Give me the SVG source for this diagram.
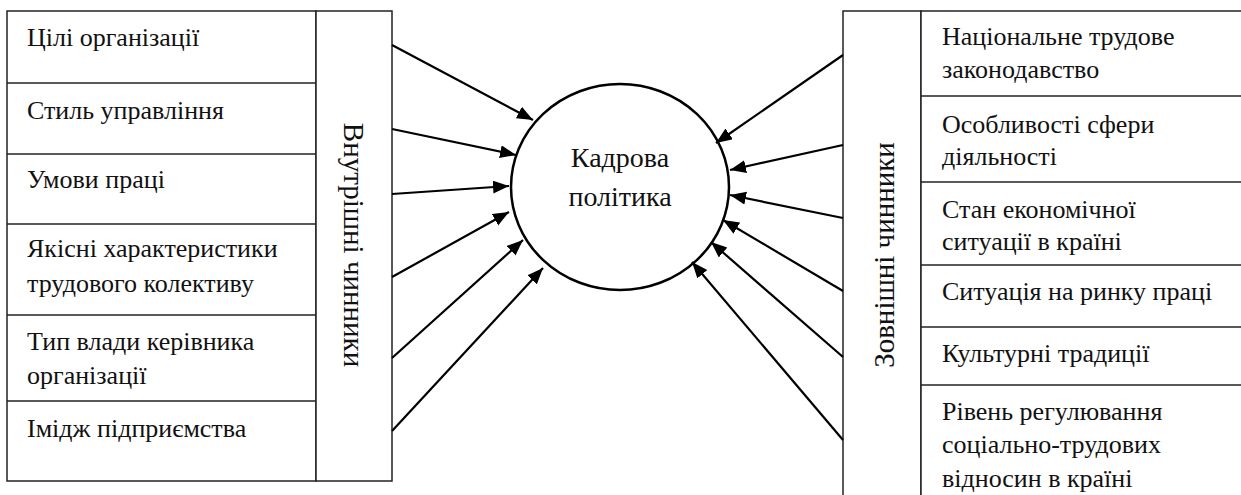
<svg xmlns="http://www.w3.org/2000/svg" width="1241" height="495" viewBox="0 0 1241 495" font-family="Liberation Serif, DejaVu Serif, serif">
<defs>
<marker id="ah" markerUnits="userSpaceOnUse" markerWidth="18" markerHeight="14" refX="16" refY="6.5" orient="auto">
<path d="M0,0 L16,6.5 L0,13 Z" fill="#000"/>
</marker>
<style>
.box{fill:#fff;stroke:#222;stroke-width:1.5}
.t{font-size:26px;fill:#111}
.v{font-size:29px;fill:#111}
.c{font-size:28px;fill:#111}
.a{stroke:#000;stroke-width:2.2;fill:none;marker-end:url(#ah)}
</style>
</defs>
<rect width="1241" height="495" fill="#fff"/>
<g id="internal">
<rect class="box" x="7" y="11" width="309" height="470"/>
<rect class="box" x="316" y="11" width="76" height="470"/>
<line class="box" x1="7" y1="83" x2="316" y2="83"/>
<line class="box" x1="7" y1="154" x2="316" y2="154"/>
<line class="box" x1="7" y1="224" x2="316" y2="224"/>
<line class="box" x1="7" y1="315" x2="316" y2="315"/>
<line class="box" x1="7" y1="401" x2="316" y2="401"/>
<text class="v" font-family="Liberation Serif, serif" transform="translate(344,245) rotate(90)" text-anchor="middle">Внутрішні чинники</text>
</g>
<g id="int1"><text class="t" x="27" y="46">Цілі організації</text></g>
<g id="int2"><text class="t" x="27" y="119">Стиль управління</text></g>
<g id="int3"><text class="t" x="27" y="188">Умови праці</text></g>
<g id="int4"><text class="t" x="27" y="257">Якісні характеристики</text><text class="t" x="27" y="292">трудового колективу</text></g>
<g id="int5"><text class="t" x="27" y="350">Тип влади керівника</text><text class="t" x="27" y="384">організації</text></g>
<g id="int6"><text class="t" x="27" y="437">Імідж підприємства</text></g>
<g id="external">
<rect class="box" x="843" y="11" width="78" height="490"/>
<rect class="box" x="921" y="11" width="330" height="490"/>
<line class="box" x1="921" y1="96" x2="1241" y2="96"/>
<line class="box" x1="921" y1="182" x2="1241" y2="182"/>
<line class="box" x1="921" y1="265" x2="1241" y2="265"/>
<line class="box" x1="921" y1="327" x2="1241" y2="327"/>
<line class="box" x1="921" y1="385" x2="1241" y2="385"/>
<text class="v" transform="translate(894,255) rotate(-90)" text-anchor="middle">Зовнішні чинники</text>
</g>
<g id="ext1"><text class="t" x="942" y="45">Національне трудове</text><text class="t" x="942" y="78">законодавство</text></g>
<g id="ext2"><text class="t" x="942" y="133">Особливості сфери</text><text class="t" x="942" y="165">діяльності</text></g>
<g id="ext3"><text class="t" x="942" y="218">Стан економічної</text><text class="t" x="942" y="250">ситуації в країні</text></g>
<g id="ext4"><text class="t" x="942" y="300">Ситуація на ринку праці</text></g>
<g id="ext5"><text class="t" x="942" y="362">Культурні традиції</text></g>
<g id="ext6"><text class="t" x="942" y="420">Рівень регулювання</text><text class="t" x="942" y="453">соціально-трудових</text><text class="t" x="942" y="487">відносин в країні</text></g>
<g id="center">
<ellipse cx="620" cy="187" rx="109" ry="103" fill="#fff" stroke="#000" stroke-width="2.5"/>
<text class="c" x="620" y="167" text-anchor="middle">Кадрова</text>
<text class="c" x="620" y="206" text-anchor="middle">політика</text>
</g>
<g id="connectors">
<line class="a" x1="392" y1="45" x2="533" y2="120"/>
<line class="a" x1="392" y1="129" x2="516" y2="155"/>
<line class="a" x1="392" y1="194" x2="509" y2="186"/>
<line class="a" x1="392" y1="277" x2="509" y2="212"/>
<line class="a" x1="392" y1="358" x2="523" y2="240"/>
<line class="a" x1="392" y1="431" x2="543" y2="268"/>
<line class="a" x1="843" y1="55" x2="716" y2="143"/>
<line class="a" x1="843" y1="145" x2="730" y2="170"/>
<line class="a" x1="843" y1="218" x2="730" y2="195"/>
<line class="a" x1="843" y1="291" x2="723" y2="220"/>
<line class="a" x1="843" y1="357" x2="711" y2="242"/>
<line class="a" x1="843" y1="440" x2="692" y2="262"/>
</g>
</svg>
